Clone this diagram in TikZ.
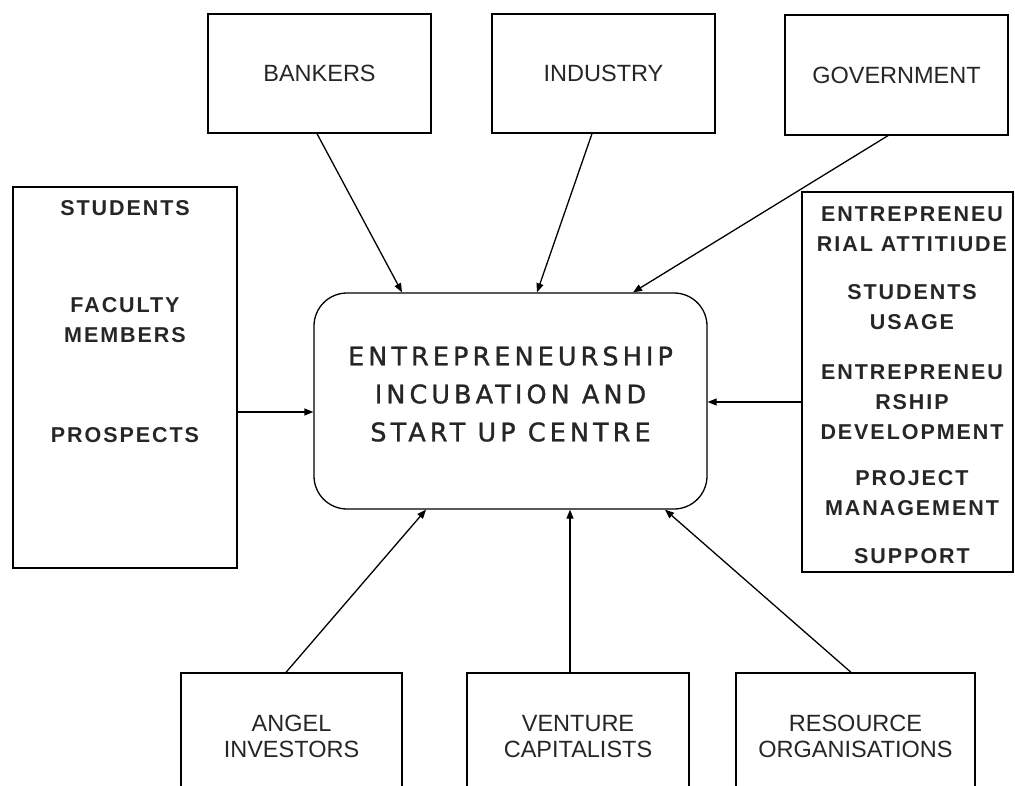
\documentclass[tikz,border=0pt]{standalone}
\usepackage{fontspec}
\setmainfont{Liberation Sans}
\newfontfamily\sidefont[LetterSpace=9]{Liberation Sans}
\newfontfamily\centerfont[LetterSpace=16,FakeBold=1.2]{DejaVu Sans}
\usetikzlibrary{arrows.meta}
\begin{document}
\begin{tikzpicture}[x=1pt,y=-1pt,
  line width=1.3pt,
  box/.style={draw, line width=1.3pt, rectangle, inner sep=0pt, align=center,
    text=black!85, font=\fontsize{23.5}{26}\selectfont},
  sidetext/.style={align=center, inner sep=0pt, text=black!85,
    font=\sidefont\bfseries\fontsize{21.5}{30}\selectfont},
  arr/.style={line width=1.3pt, -{Triangle[length=9pt,width=7pt]}},
]
\clip (0,0) rectangle (1015,786);
\fill[white] (0,0) rectangle (1015,786);

% top boxes
\node[box, minimum width=223pt, minimum height=119pt] (bankers) at (319.5,73.5) {BANKERS};
\node[box, minimum width=223pt, minimum height=119pt] (industry) at (603.5,73.5) {INDUSTRY};
\node[box, minimum width=223pt, minimum height=120pt] (government) at (896.5,75) {GOVERNMENT};

% centre
\node[draw, line width=1.3pt, rounded corners=33pt, minimum width=393pt, minimum height=216pt] (c) at (510.5,401) {};
\node[align=center, inner sep=0pt, text=black!85, font=\centerfont\fontsize{25.5}{38}\selectfont] (ct) at (510.5,394)
  {ENTREPRENEURSHIP\\INCUBATION AND\\START UP CENTRE};

% left box
\node[draw, line width=1.3pt, minimum width=224pt, minimum height=381pt, inner sep=0pt] (left) at (125,377.5) {};
\node[sidetext] (l1) at (125,208) {STUDENTS};
\node[sidetext] (l2) at (125,320) {FACULTY\\MEMBERS};
\node[sidetext] (l3) at (125,435) {PROSPECTS};

% right box
\node[draw, line width=1.3pt, minimum width=211pt, minimum height=380pt, inner sep=0pt] (right) at (907.5,382) {};
\node[sidetext] (r1) at (912,229) {ENTREPRENEU\\RIAL ATTITIUDE};
\node[sidetext] (r2) at (912,307) {STUDENTS\\USAGE};
\node[sidetext] (r3) at (912,402) {ENTREPRENEU\\RSHIP\\DEVELOPMENT};
\node[sidetext] (r4) at (912,493) {PROJECT\\MANAGEMENT};
\node[sidetext] (r5) at (912,556) {SUPPORT};

% bottom boxes
\node[box, minimum width=221pt, minimum height=127pt] (angel) at (291.5,736.5) {ANGEL\\INVESTORS};
\node[box, minimum width=222pt, minimum height=127pt] (venture) at (578,736.5) {VENTURE\\CAPITALISTS};
\node[box, minimum width=239pt, minimum height=127pt] (resource) at (855.5,736.5) {RESOURCE\\ORGANISATIONS};

% arrows
\draw[arr] ([xshift=-2.5pt]bankers.south) -- ([xshift=-108.5pt]c.north);
\draw[arr] ([xshift=-11.5pt]industry.south) -- ([xshift=26.5pt]c.north);
\draw[arr] ([xshift=-8.5pt]government.south) -- ([xshift=122.5pt]c.north);
\draw[arr] ([yshift=-34.5pt]left.east) -- ([yshift=-11pt]c.west);
\draw[arr] ([yshift=-20pt]right.west) -- ([yshift=-1pt]c.east);
\draw[arr] ([xshift=-5.5pt]angel.north) -- ([xshift=-84.5pt]c.south);
\draw[arr] ([xshift=-8pt]venture.north) -- ([xshift=59.5pt]c.south);
\draw[arr] ([xshift=-4.5pt]resource.north) -- ([xshift=154.5pt]c.south);
\end{tikzpicture}
\end{document}
